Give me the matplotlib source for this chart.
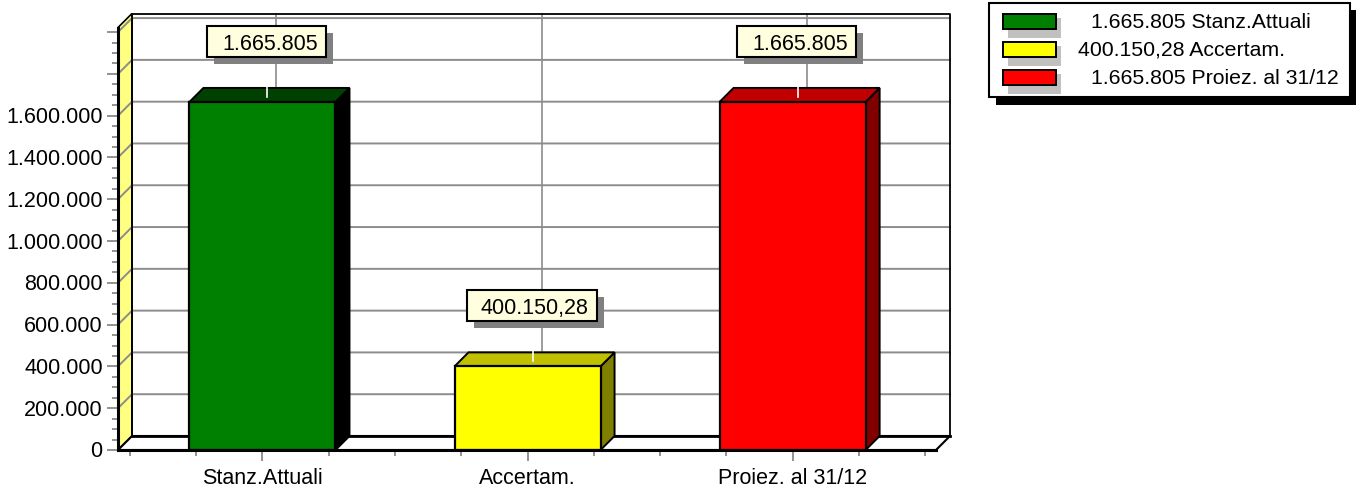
import matplotlib
matplotlib.use('Agg')
import matplotlib.pyplot as plt
from matplotlib.patches import Polygon, Rectangle
from matplotlib.transforms import Affine2D

plt.rcParams['font.family'] = ['Liberation Sans', 'DejaVu Sans']

# dati
categories = ['Stanz.Attuali', 'Accertam.', 'Proiez. al 31/12']
values = [1665805, 400150.28, 1665805]
value_labels = ['1.665.805', '400.150,28', '1.665.805']
y_ticks = [0, 200000, 400000, 600000, 800000, 1000000, 1200000, 1400000, 1600000, 1800000, 2000000]
y_tick_labels = ['0', '200.000', '400.000', '600.000', '800.000', '1.000.000',
                 '1.200.000', '1.400.000', '1.600.000', '', '']

face_colors = ['#008000', '#ffff00', '#ff0000']
top_colors = ['#004000', '#c0c000', '#c00000']
side_colors = ['#000000', '#808000', '#800000']

W, H = 1356, 489
FS = 15.5

fig = plt.figure(figsize=(W / 100, H / 100), dpi=100, facecolor='white')
ax = fig.add_axes([118 / W, (H - 451) / H, 818 / W, 422.5 / H])
ax.set_xlim(-0.545, 2.541)
ax.set_ylim(0, 2022000)
ax.patch.set_visible(False)

# profondita' 3D in unita' dati (14 pixel)
dx = 14 * 3.086 / 818
dy = 14 * 2022000 / 422.5
x0, x1 = ax.get_xlim()
y1 = ax.get_ylim()[1]

# parete sinistra e pavimento
ax.add_patch(Polygon([(x0, 0), (x0 + dx, dy), (x0 + dx, y1 + dy), (x0, y1)], closed=True,
                     fc='#ffff80', ec='black', lw=1.2, clip_on=False, zorder=1))
ax.add_patch(Polygon([(x0, 0), (x0 + dx, dy), (x1 + dx, dy), (x1, 0)], closed=True,
                     fc='white', ec='black', lw=1.5, clip_on=False, zorder=1))

# griglia orizzontale sul fondo e sulla parete
for v in y_ticks[1:]:
    ax.plot([x0, x0 + dx, x1 + dx], [v, v + dy, v + dy], color='#8c8c8c', lw=1.4,
            clip_on=False, zorder=2, solid_joinstyle='miter')
# griglia verticale
for i in range(len(categories)):
    ax.plot([i + dx, i + dx], [dy, y1 + dy], color='#8c8c8c', lw=1.2, clip_on=False, zorder=2)

# bordo del fondo
ax.plot([x0 + dx, x1 + dx, x1 + dx], [y1 + dy, y1 + dy, dy], color='black', lw=1.3,
        clip_on=False, zorder=3)
ax.plot([x0 + dx, x0 + dx], [dy, y1 + dy], color='black', lw=1.3, clip_on=False, zorder=3)
ax.plot([x0 + dx, x1 + dx], [dy, dy], color='black', lw=2, clip_on=False, zorder=3)

# barre
bw = 0.551
for i, v in enumerate(values):
    l, r = i - bw / 2, i + bw / 2
    ax.add_patch(Polygon([(r, 0), (r + dx, dy), (r + dx, v + dy), (r, v)], closed=True,
                         fc=side_colors[i], ec='black', lw=1.4, zorder=4, clip_on=False))
    ax.add_patch(Polygon([(l, v), (l + dx, v + dy), (r + dx, v + dy), (r, v)], closed=True,
                         fc=top_colors[i], ec='black', lw=1.4, zorder=4, clip_on=False))
    ax.add_patch(Rectangle((l, 0), bw, v, fc=face_colors[i], ec='black', lw=1.6, zorder=5,
                           clip_on=False))

# assi
for s in ['top', 'right']:
    ax.spines[s].set_visible(False)
for s in ['left', 'bottom']:
    ax.spines[s].set_linewidth(2.2)
    ax.spines[s].set_color('black')
    ax.spines[s].set_zorder(6)

ax.set_yticks(y_ticks)
ax.set_yticklabels(y_tick_labels, fontsize=FS, color='black')
ax.set_yticks([v * 50000 for v in range(41)], minor=True)
ax.set_xticks(range(len(categories)))
ax.set_xticklabels(categories, fontsize=FS, color='black')
ax.set_xticks([k * 0.25 - 0.5 for k in range(13)], minor=True)
ax.tick_params(axis='y', which='major', length=8, width=1.2, color='#808080', pad=3)
ax.tick_params(axis='y', which='minor', length=4, width=1.2, color='#808080')
ax.tick_params(axis='x', which='major', length=8, width=1.2, color='#808080', pad=4)
ax.tick_params(axis='x', which='minor', length=4, width=1.2, color='#808080')

# le etichette dell'asse y stanno un po' piu' in alto
for lab in ax.get_yticklabels():
    lab.set_transform(lab.get_transform() + Affine2D().translate(0, 1.5))

# livello sovrapposto in pixel per etichette e legenda
ov = fig.add_axes([0, 0, 1, 1], zorder=10)
ov.set_xlim(0, W)
ov.set_ylim(H, 0)
ov.axis('off')

fig.canvas.draw()
box_widths = [119, 130, 119]
for i, v in enumerate(values):
    px, py = ax.transData.transform((i, v))
    py = H - py
    tick_x = px + 5
    ov.plot([tick_x, tick_x], [py - 15, py - 5], color='white', lw=1.2, zorder=1)
    w = box_widths[i]
    left = px + 4 - w / 2
    top = py - 76
    ov.add_patch(Rectangle((left + 7, top + 7), w, 31, fc='#808080', ec='none', zorder=2))
    ov.add_patch(Rectangle((left, top), w, 31, fc='#ffffe0', ec='black', lw=1.5, zorder=3))
    ov.text(left + w - 8, top + 15, value_labels[i], fontsize=FS, ha='right', va='center_baseline',
            color='black', zorder=4)

# legenda
ov.add_patch(Rectangle((996, 11), 360, 95, fc='black', ec='none', zorder=1))
ov.add_patch(Rectangle((989, 4), 361, 94, fc='white', ec='black', lw=1.5, zorder=2))
legend_x = [1091, 1078, 1091]
legend_y = [21, 49, 77]
for i, name in enumerate(categories):
    yc = legend_y[i]
    ov.add_patch(Rectangle((1008, yc - 2), 53, 20, fc='#c0c0c0', ec='none', zorder=3))
    ov.add_patch(Rectangle((1003, yc - 6), 53, 15, fc=face_colors[i], ec='black', lw=1.4, zorder=4))
    ov.text(legend_x[i], yc - 0.5, value_labels[i] + ' ' + name, fontsize=15.3, ha='left',
            va='center_baseline', color='black', zorder=5)

fig.savefig('out.png', dpi=100, facecolor='white')
